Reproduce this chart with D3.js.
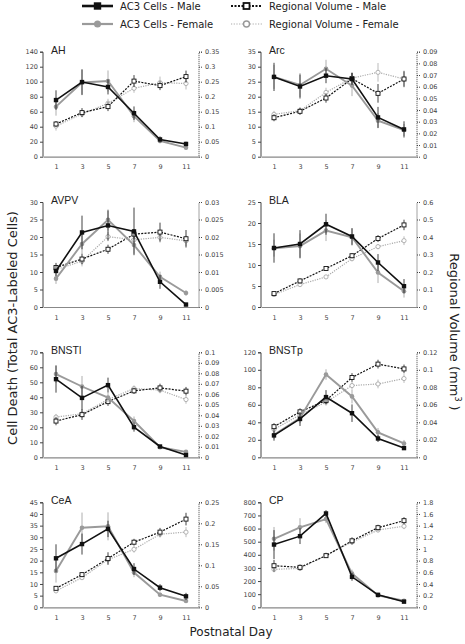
<!DOCTYPE html>
<html><head><meta charset="utf-8">
<script src="https://cdn.jsdelivr.net/npm/d3@7/dist/d3.min.js"></script>
<style>body{margin:0;background:#fff}svg{display:block}</style>
</head><body>
<svg id="c" width="465" height="644"></svg>
<script>
const days = [1, 3, 5, 7, 9, 11];
const regions = ["AH", "Arc", "AVPV", "BLA", "BNSTl", "BNSTp", "CeA", "CP"];
const leftMax  = [140, 35, 30, 25, 70, 120, 45, 800];
const leftStep = [20, 5, 5, 5, 10, 20, 5, 100];
const rightMax  = [0.35, 0.09, 0.03, 0.6, 0.1, 0.12, 0.25, 1.8];
const rightStep = [0.05, 0.01, 0.005, 0.1, 0.01, 0.02, 0.05, 0.2];

const ac3Male = [
  [75.5, 99.5, 93, 58, 23, 17],
  [26.6, 23.4, 27, 25.9, 13.1, 9.1],
  [10.3, 21.3, 23.3, 21.6, 7.2, 0.7],
  [14.05, 15.0, 19.7, 16.8, 10.6, 4.95],
  [52.1, 39.6, 48.1, 20.1, 7.2, 1.5],
  [25, 43.8, 68.8, 50.4, 21.5, 10.5],
  [21, 27.1, 33.6, 16.4, 8.4, 4.7],
  [478, 542, 715, 232, 95, 43]
];
const ac3MaleErr = [
  [13, 17, 10, 9, 4, 3],
  [4.7, 4, 2.5, 2, 3.5, 2.7],
  [1.5, 4.8, 4.3, 6.8, 2, 0.5],
  [3.5, 3.3, 2.5, 2, 2, 1.7],
  [9, 8, 5, 3, 1, 1],
  [6, 8, 8, 10, 4, 2],
  [6, 4.5, 3.5, 2.5, 1.5, 1.5],
  [110, 60, 25, 30, 15, 8]
];
const ac3Female = [
  [66.7, 99, 101, 54, 21, 12],
  [26.6, 23.9, 29.3, 23.7, 12, 8.9],
  [8.1, 18, 24.9, 17.7, 8.6, 4.0],
  [14, 14.5, 18.2, 16.6, 8.2, 3.75],
  [55.5, 47.2, 39.8, 24.2, 6.7, 3.6],
  [25.8, 45, 94.6, 69.6, 28.5, 15.8],
  [15.6, 34.1, 34.7, 14.9, 5.4, 2.7],
  [522, 609, 672, 257, 90, 50]
];
const ac3FemaleErr = [
  [12, 17, 14, 8, 3, 3],
  [4, 4, 3, 3.5, 2.5, 2],
  [1.5, 3.5, 3, 2.5, 1.5, 0.8],
  [2, 3, 2.5, 2, 2.5, 1.5],
  [6, 7, 3, 3, 1, 1],
  [5, 6, 6, 8, 5, 4],
  [5, 6.5, 6, 2, 1, 0.8],
  [90, 70, 30, 30, 10, 8]
];
const volMale = [
  [0.109, 0.147, 0.167, 0.252, 0.237, 0.267],
  [0.0334, 0.0389, 0.0503, 0.0669, 0.0543, 0.0666],
  [0.0113, 0.0137, 0.0165, 0.0208, 0.0214, 0.0195],
  [0.0767, 0.149, 0.22, 0.293, 0.391, 0.469],
  [0.0345, 0.0406, 0.053, 0.0633, 0.0661, 0.063],
  [0.035, 0.052, 0.065, 0.0912, 0.1065, 0.101],
  [0.0452, 0.0778, 0.116, 0.155, 0.179, 0.21],
  [0.713, 0.685, 0.885, 1.14, 1.365, 1.485]
];
const volMaleErr = [
  [0.01, 0.015, 0.015, 0.02, 0.015, 0.02],
  [0.003, 0.003, 0.004, 0.005, 0.008, 0.007],
  [0.0013, 0.0015, 0.0013, 0.0015, 0.0027, 0.0025],
  [0.01, 0.015, 0.01, 0.015, 0.02, 0.03],
  [0.004, 0.005, 0.004, 0.003, 0.004, 0.004],
  [0.004, 0.004, 0.004, 0.005, 0.005, 0.005],
  [0.005, 0.006, 0.015, 0.008, 0.01, 0.015],
  [0.1, 0.05, 0.04, 0.06, 0.05, 0.06]
];
const volFemale = [
  [0.102, 0.142, 0.178, 0.228, 0.247, 0.244],
  [0.0363, 0.0394, 0.0551, 0.0674, 0.0723, 0.0666],
  [0.0107, 0.0131, 0.0201, 0.0192, 0.0199, 0.0189],
  [0.071, 0.128, 0.172, 0.276, 0.345, 0.379],
  [0.0383, 0.0415, 0.055, 0.0655, 0.064, 0.055],
  [0.0319, 0.0485, 0.063, 0.082, 0.0838, 0.09],
  [0.039, 0.0706, 0.1135, 0.138, 0.174, 0.179],
  [0.65, 0.667, 0.894, 1.12, 1.325, 1.39]
];
const volFemaleErr = [
  [0.015, 0.01, 0.015, 0.015, 0.02, 0.02],
  [0.003, 0.003, 0.004, 0.005, 0.008, 0.006],
  [0.0013, 0.0015, 0.0013, 0.0015, 0.0015, 0.0015],
  [0.01, 0.01, 0.01, 0.015, 0.015, 0.025],
  [0.003, 0.004, 0.003, 0.003, 0.003, 0.004],
  [0.003, 0.003, 0.004, 0.004, 0.005, 0.005],
  [0.005, 0.005, 0.01, 0.008, 0.008, 0.012],
  [0.05, 0.04, 0.03, 0.05, 0.04, 0.05]
];
const legendLabels = ["AC3 Cells - Male", "Regional Volume - Male", "AC3 Cells - Female", "Regional Volume - Female"];
const xTitle = "Postnatal Day";
const yLeftTitle = "Cell Death (Total AC3-Labeled Cells)";
const yRightTitle = "Regional Volume (mm";

const svg = d3.select("#c");
const TICKFONT = "DejaVu Sans, Verdana, sans-serif";
const colLeft = [43, 261];
const rowTop = [51.7, 202, 352.3, 502.3];
const PW = 156, PH = 105;

const sty = {
  maleAC3: {stroke: "#111", width: 1.6, dash: null},
  femAC3: {stroke: "#9a9a9a", width: 1.9, dash: null},
  maleVol: {stroke: "#111", width: 1.2, dash: "2,1.3"},
  femVol: {stroke: "#aaaaaa", width: 1.2, dash: "1.2,1.2"}
};

function fmt(v){ return String(+v.toFixed(6)); }

regions.forEach((name, i) => {
  const col = i % 2, row = Math.floor(i / 2);
  const x0 = colLeft[col], y0 = rowTop[row];
  const g = svg.append("g").attr("transform", `translate(${x0},${y0})`);
  const x = d3.scalePoint().domain(days).range([0, PW]).padding(0.5);
  const yl = d3.scaleLinear().domain([0, leftMax[i]]).range([PH, 0]);
  const yr = d3.scaleLinear().domain([0, rightMax[i]]).range([PH, 0]);
  const lt = d3.range(0, leftMax[i] + leftStep[i] / 2, leftStep[i]);
  const rt = d3.range(0, Math.round(rightMax[i] / rightStep[i]) + 1).map(k => +(k * rightStep[i]).toFixed(6));

  // left axis
  const la = g.append("g").call(d3.axisLeft(yl).tickValues(lt).tickSize(3).tickPadding(2).tickFormat(fmt));
  la.select(".domain").attr("stroke", "#444").attr("stroke-width", 1).attr("d", `M-3,0.5H0V${PH}`);
  la.selectAll(".tick line").attr("stroke", "#444");
  la.selectAll("text").attr("font-family", TICKFONT).attr("font-size", 6.5).attr("fill", "#444");
  // right axis
  const ra = g.append("g").attr("transform", `translate(${PW},0)`)
    .call(d3.axisRight(yr).tickValues(rt).tickSize(3).tickPadding(3).tickFormat(fmt));
  ra.select(".domain").attr("stroke", "#444").attr("stroke-width", 1).attr("stroke-dasharray", "1,1").attr("d", `M3,0.5H0V${PH}`);
  ra.selectAll(".tick line").attr("stroke", "#444").attr("stroke-dasharray", "1,1");
  ra.selectAll("text").attr("font-family", TICKFONT).attr("font-size", 6.5).attr("fill", "#444");
  // x axis
  const xa = g.append("g").attr("transform", `translate(0,${PH})`).call(d3.axisBottom(x).tickSize(0).tickPadding(8));
  xa.select(".domain").attr("stroke", "#888").attr("stroke-width", 1.2);
  xa.selectAll("text").attr("font-family", TICKFONT).attr("font-size", 6.5).attr("fill", "#444");

  // title
  g.append("text").attr("x", 8).attr("y", 1.8).text(name)
    .attr("font-family", "Liberation Sans, Arial, sans-serif").attr("font-size", 10.5).attr("fill", "#222");

  function series(vals, errs, y, s, marker) {
    const gg = g.append("g");
    gg.selectAll("line.err").data(vals).join("line")
      .attr("x1", (d, j) => x(days[j])).attr("x2", (d, j) => x(days[j]))
      .attr("y1", (d, j) => y(d + errs[j])).attr("y2", (d, j) => y(Math.max(0, d - errs[j])))
      .attr("stroke", s.stroke).attr("stroke-width", 0.8);
    const line = d3.line().x((d, j) => x(days[j])).y(d => y(d));
    gg.append("path").attr("d", line(vals)).attr("fill", "none")
      .attr("stroke", s.stroke).attr("stroke-width", s.width)
      .attr("stroke-dasharray", s.dash);
    vals.forEach((d, j) => {
      const cx = x(days[j]), cy = y(d);
      if (marker === "sqFill") gg.append("rect").attr("x", cx - 2.2).attr("y", cy - 2.2).attr("width", 4.4).attr("height", 4.4).attr("fill", s.stroke);
      if (marker === "cirFill") gg.append("circle").attr("cx", cx).attr("cy", cy).attr("r", 2.3).attr("fill", s.stroke);
      if (marker === "sqOpen") gg.append("rect").attr("x", cx - 2).attr("y", cy - 2).attr("width", 4).attr("height", 4).attr("fill", "#fff").attr("stroke", s.stroke).attr("stroke-width", 0.9);
      if (marker === "cirOpen") gg.append("circle").attr("cx", cx).attr("cy", cy).attr("r", 2.1).attr("fill", "#fff").attr("stroke", s.stroke).attr("stroke-width", 0.9);
    });
  }
  series(volFemale[i], volFemaleErr[i], yr, sty.femVol, "cirOpen");
  series(volMale[i], volMaleErr[i], yr, sty.maleVol, "sqOpen");
  series(ac3Female[i], ac3FemaleErr[i], yl, sty.femAC3, "cirFill");
  series(ac3Male[i], ac3MaleErr[i], yl, sty.maleAC3, "sqFill");
});

// legend
const lg = svg.append("g");
const legItems = [
  {x: 82, y: 6, s: sty.maleAC3, w: 2.6, m: "sqFill"},
  {x: 231, y: 6, s: sty.maleVol, w: 2, m: "sqOpen", dash: "2,1.5"},
  {x: 82, y: 24, s: sty.femAC3, w: 2.2, m: "cirFill"},
  {x: 231, y: 24, s: sty.femVol, w: 1.2, m: "cirOpen", dash: "1.2,1.5"}
];
legItems.forEach((it, k) => {
  lg.append("line").attr("x1", it.x).attr("x2", it.x + 31).attr("y1", it.y).attr("y2", it.y)
    .attr("stroke", it.s.stroke).attr("stroke-width", it.w).attr("stroke-dasharray", it.dash || null);
  const cx = it.x + 15.5;
  if (it.m === "sqFill") lg.append("rect").attr("x", cx - 3.7).attr("y", it.y - 3.7).attr("width", 7.4).attr("height", 7.4).attr("fill", "#111");
  if (it.m === "sqOpen") lg.append("rect").attr("x", cx - 3).attr("y", it.y - 3).attr("width", 6).attr("height", 6).attr("fill", "#fff").attr("stroke", "#111").attr("stroke-width", 1.8);
  if (it.m === "cirFill") lg.append("circle").attr("cx", cx).attr("cy", it.y).attr("r", 3.5).attr("fill", it.s.stroke);
  if (it.m === "cirOpen") lg.append("circle").attr("cx", cx).attr("cy", it.y).attr("r", 3).attr("fill", "#fff").attr("stroke", "#999").attr("stroke-width", 1.4);
  lg.append("text").attr("x", it.x + 38).attr("y", it.y + 3.6).text(legendLabels[k])
    .attr("font-family", TICKFONT).attr("font-size", 10).attr("fill", "#222");
});

// axis titles
svg.append("text").attr("x", 231).attr("y", 636).attr("text-anchor", "middle").text(xTitle)
  .attr("font-family", TICKFONT).attr("font-size", 12).attr("fill", "#222");
svg.append("text").attr("transform", "translate(17,328) rotate(-90)").attr("text-anchor", "middle").text(yLeftTitle)
  .attr("font-family", TICKFONT).attr("font-size", 13).attr("fill", "#222");
const rtxt = svg.append("text").attr("transform", "translate(450,332) rotate(90)").attr("text-anchor", "middle")
  .attr("font-family", TICKFONT).attr("font-size", 13).attr("fill", "#222");
rtxt.append("tspan").text(yRightTitle);
rtxt.append("tspan").attr("dy", -5).attr("font-size", 8).text("3");
rtxt.append("tspan").attr("dy", 5).text(" )");
</script>
</body></html>
